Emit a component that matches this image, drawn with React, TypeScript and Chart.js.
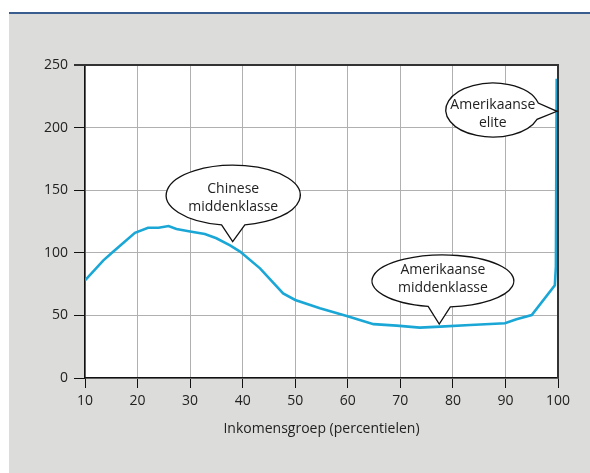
import React, { useEffect, useRef } from "react";
import { Chart, registerables } from "chart.js";

Chart.register(...registerables);

// Income percentile (x) and real income growth in % (y)
const percentiles = [10, 13.5, 15.4, 19.5, 22, 24, 25.9, 27.4, 30, 32.8, 35, 37.6, 39.5, 43.3, 47.7, 50, 54.7, 59.8, 64.9, 69.3, 73.7, 77.6, 83.3, 89.9, 92.1, 95, 99.4, 99.6, 99.75];
const growth = [78, 94, 101, 116, 120, 120, 121.4, 119, 117, 115, 111.6, 106, 101, 87.6, 67.6, 62.3, 55.7, 49.5, 43, 41.8, 40.2, 41, 42.3, 43.7, 46.9, 50.3, 74, 89, 239];

const xTicks = [10, 20, 30, 40, 50, 60, 70, 80, 90, 100];
const yTicks = [0, 50, 100, 150, 200, 250];

const xTitle = "Inkomensgroep (percentielen)";

// Speech-bubble annotations (data coordinates)
const bubbleTexts = [
  ["Chinese", "middenklasse"],
  ["Amerikaanse", "middenklasse"],
  ["Amerikaanse", "elite"],
];
const bubbleCenters = [
  [38.2, 146],
  [78.1, 77.5],
  [87.6, 214],
];
const bubbleRadii = [
  [12.75, 24],
  [13.5, 20.8],
  [8.95, 21.6],
];
const bubbleTips = [
  [38.1, 108.9],
  [77.4, 43.1],
  [99.8, 213],
];
const bubbleAngles = [
  [80, 100],
  [84, 102],
  [-15, 20],
];
const bubbleTextDy = [2.5, -1.5, 4];

const FONT = "'Open Sans', 'Noto Sans', sans-serif";

export default function App() {
  const ref = useRef<HTMLCanvasElement | null>(null);

  useEffect(() => {
    if (!ref.current) return;
    const bgPlugin = {
      id: "bgPlugin",
      beforeDraw(chart: any) {
        const { ctx, chartArea } = chart;
        ctx.save();
        ctx.fillStyle = "#ffffff";
        ctx.fillRect(chartArea.left, chartArea.top, chartArea.right - chartArea.left, chartArea.bottom - chartArea.top);
        ctx.restore();
      },
      afterDatasetsDraw(chart: any) {
        const { ctx, chartArea } = chart;
        const xs = chart.scales.x;
        const ys = chart.scales.y;
        ctx.save();
        // top and right frame
        ctx.strokeStyle = "#333333";
        ctx.lineWidth = 2;
        ctx.beginPath();
        ctx.moveTo(chartArea.left - 11, chartArea.top);
        ctx.lineTo(chartArea.right, chartArea.top);
        ctx.lineTo(chartArea.right, chartArea.bottom);
        ctx.stroke();

        for (let i = 0; i < bubbleTexts.length; i++) {
          const cx = xs.getPixelForValue(bubbleCenters[i][0]);
          const cy = ys.getPixelForValue(bubbleCenters[i][1]);
          const rx = Math.abs(xs.getPixelForValue(bubbleCenters[i][0] + bubbleRadii[i][0]) - cx);
          const ry = Math.abs(ys.getPixelForValue(bubbleCenters[i][1] + bubbleRadii[i][1]) - cy);
          const tx = xs.getPixelForValue(bubbleTips[i][0]);
          const ty = ys.getPixelForValue(bubbleTips[i][1]);
          const a1 = (bubbleAngles[i][0] * Math.PI) / 180;
          const a2 = (bubbleAngles[i][1] * Math.PI) / 180;
          ctx.beginPath();
          ctx.ellipse(cx, cy, rx, ry, 0, a2, a1 + 2 * Math.PI, false);
          ctx.lineTo(tx, ty);
          ctx.closePath();
          ctx.fillStyle = "#ffffff";
          ctx.fill();
          ctx.strokeStyle = "#111111";
          ctx.lineWidth = 1.3;
          ctx.stroke();

          ctx.fillStyle = "#222222";
          ctx.font = `14px ${FONT}`;
          ctx.textAlign = "center";
          ctx.textBaseline = "middle";
          const lines = bubbleTexts[i];
          const lh = 18;
          lines.forEach((t, k) => {
            ctx.fillText(t, cx, cy + bubbleTextDy[i] + (k - (lines.length - 1) / 2) * lh);
          });
        }
        ctx.restore();
      },
    };

    const chart = new Chart(ref.current, {
      type: "line",
      data: {
        datasets: [
          {
            data: percentiles.map((p, i) => ({ x: p, y: growth[i] })),
            borderColor: "#1aa7d6",
            borderWidth: 2.6,
            pointRadius: 0,
            tension: 0,
            fill: false,
          },
        ],
      },
      options: {
        responsive: false,
        animation: false,
        layout: { padding: { top: 51, right: 32, left: 0, bottom: 0 } },
        plugins: {
          legend: { display: false },
          tooltip: { enabled: false },
        },
        scales: {
          x: {
            type: "linear",
            min: 10,
            max: 100,
            afterFit: (s: any) => {
              s.height = 95;
            },
            afterBuildTicks: (s: any) => {
              s.ticks = xTicks.map((v) => ({ value: v }));
            },
            ticks: {
              color: "#222222",
              font: { family: FONT, size: 14 },
              padding: 5,
              maxRotation: 0,
            },
            grid: {
              color: "#b0b0b0",
              lineWidth: 1,
              tickColor: "#111111",
              tickLength: 10,
              drawTicks: true,
            },
            border: { color: "#111111", width: 1.5 },
            title: {
              display: true,
              text: xTitle,
              color: "#222222",
              font: { family: FONT, size: 14 },
              padding: { top: 0, bottom: 36 },
            },
          },
          y: {
            type: "linear",
            min: 0,
            max: 250,
            afterFit: (s: any) => {
              s.width = 76;
            },
            afterBuildTicks: (s: any) => {
              s.ticks = yTicks.map((v) => ({ value: v }));
            },
            ticks: {
              color: "#222222",
              font: { family: FONT, size: 14 },
              padding: 6,
            },
            grid: {
              color: "#b0b0b0",
              lineWidth: 1,
              tickColor: "#111111",
              tickLength: 11,
            },
            border: { color: "#111111", width: 1.5 },
          },
        },
      },
      plugins: [bgPlugin],
    });
    return () => chart.destroy();
  }, []);

  return (
    <div style={{ position: "absolute", left: 0, top: 0, width: 590, height: 473, background: "#ffffff" }}>
      <div style={{ position: "absolute", left: 9, top: 12, width: 581, height: 2, background: "#3a5d8f" }} />
      <div style={{ position: "absolute", left: 9, top: 14, width: 581, height: 459, background: "#dcdcda" }}>
        <canvas ref={ref} width={581} height={459} style={{ width: 581, height: 459, display: "block" }} />
      </div>
    </div>
  );
}
